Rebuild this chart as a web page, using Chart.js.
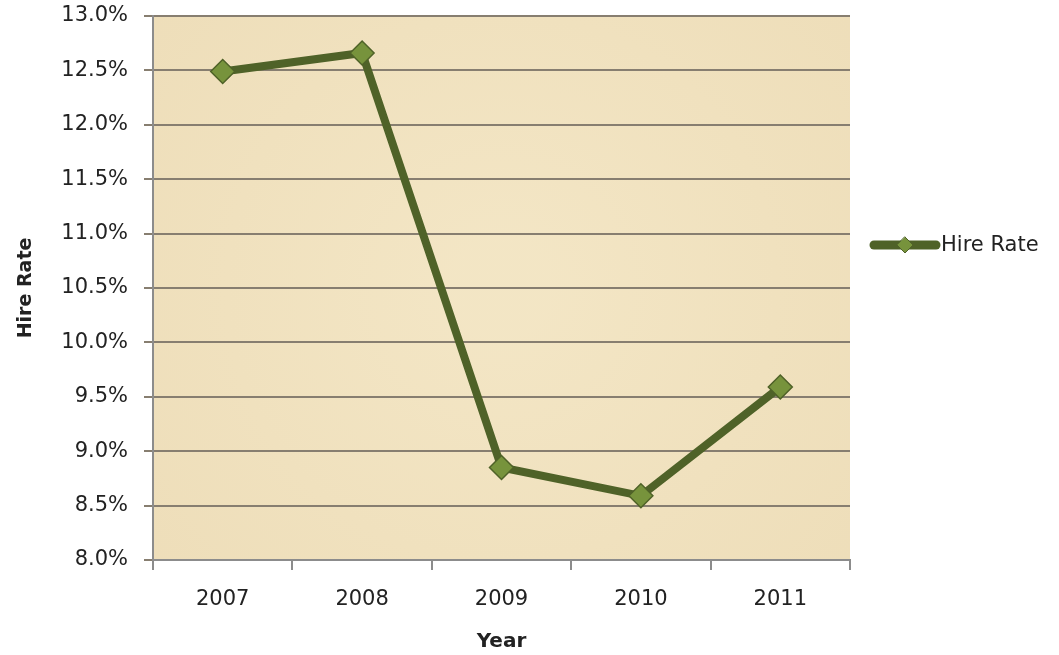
<!DOCTYPE html>
<html>
<head>
<meta charset="utf-8">
<script src="https://cdn.jsdelivr.net/npm/chart.js@4/dist/chart.umd.min.js"></script>
<style>
  html, body { margin: 0; padding: 0; background: #fff; }
  #wrap { width: 1059px; height: 655px; }
</style>
</head>
<body>
<div id="wrap"><canvas id="hires"></canvas></div>
<script>
const years = ['2007', '2008', '2009', '2010', '2011'];
const hireRate = [12.49, 12.66, 8.85, 8.59, 9.59];

const lineColor = '#4F6228';
const markerColor = '#77933C';
const textColor = '#222222';
const font = 'DejaVu Sans';

// parchment fill behind the plot area
const paper = {
  id: 'paper',
  beforeDraw(chart) {
    const {ctx, chartArea: a} = chart;
    ctx.save();
    ctx.fillStyle = '#F0E1BD';
    ctx.fillRect(a.left, a.top, a.right - a.left, a.bottom - a.top);
    const g = ctx.createRadialGradient(
      (a.left + a.right) / 2, (a.top + a.bottom) / 2, 50,
      (a.left + a.right) / 2, (a.top + a.bottom) / 2, 500);
    g.addColorStop(0, 'rgba(246,234,204,0.5)');
    g.addColorStop(1, 'rgba(234,216,178,0.45)');
    ctx.fillStyle = g;
    ctx.fillRect(a.left, a.top, a.right - a.left, a.bottom - a.top);
    ctx.restore();
  }
};

// legend on the right, drawn from the dataset itself
const sideLegend = {
  id: 'sideLegend',
  afterDraw(chart) {
    const {ctx} = chart;
    const ds = chart.data.datasets[0];
    const y = 245, x0 = 874, x1 = 936;
    ctx.save();
    ctx.strokeStyle = ds.borderColor;
    ctx.lineWidth = 9;
    ctx.lineCap = 'round';
    ctx.beginPath();
    ctx.moveTo(x0, y);
    ctx.lineTo(x1, y);
    ctx.stroke();
    ctx.fillStyle = ds.pointBackgroundColor;
    ctx.strokeStyle = ds.pointBorderColor;
    ctx.lineWidth = 1;
    ctx.beginPath();
    const cx = (x0 + x1) / 2, r = 8;
    ctx.moveTo(cx, y - r);
    ctx.lineTo(cx + r, y);
    ctx.lineTo(cx, y + r);
    ctx.lineTo(cx - r, y);
    ctx.closePath();
    ctx.fill();
    ctx.stroke();
    ctx.fillStyle = textColor;
    ctx.font = '21px "' + font + '"';
    ctx.textBaseline = 'middle';
    ctx.fillText(ds.label, x1 + 5, y + 1);
    ctx.restore();
  }
};

new Chart(document.getElementById('hires'), {
  type: 'line',
  data: {
    labels: years,
    datasets: [{
      label: 'Hire Rate',
      data: hireRate,
      borderColor: lineColor,
      borderWidth: 8,
      tension: 0,
      pointStyle: 'rectRot',
      pointRadius: 12,
      pointBackgroundColor: markerColor,
      pointBorderColor: lineColor,
      pointBorderWidth: 1.5
    }]
  },
  options: {
    responsive: true,
    maintainAspectRatio: false,
    animation: false,
    layout: { padding: { top: 16, right: 209, left: 0, bottom: 0 } },
    plugins: {
      legend: { display: false },
      tooltip: { enabled: false }
    },
    scales: {
      x: {
        offset: true,
        grid: { offset: true, drawOnChartArea: false, color: '#8c8c8c', lineWidth: 2, tickLength: 10 },
        border: { color: '#8c8c8c', width: 2 },
        ticks: { color: textColor, font: { family: font, size: 21 }, padding: 17 },
        title: { display: true, text: 'Year', color: textColor, font: { family: font, size: 20, weight: 'bold' }, padding: { top: 10, bottom: 1 } },
        afterFit(scale) { scale.height = 95; }
      },
      y: {
        min: 8,
        max: 13,
        grid: { color: '#877e70', lineWidth: 2, tickLength: 9 },
        border: { color: '#8c8c8c', width: 2 },
        ticks: {
          stepSize: 0.5,
          color: textColor,
          font: { family: font, size: 21 },
          padding: 16,
          callback: v => v.toFixed(1) + '%'
        },
        title: { display: true, text: 'Hire Rate', color: textColor, font: { family: font, size: 19, weight: 'bold' }, padding: { top: 15, bottom: 0 } },
        afterFit(scale) {
          scale.width = 153;
          scale.paddingTop = 0;
          scale.paddingBottom = 0;
        }
      }
    }
  },
  plugins: [paper, sideLegend]
});
</script>
</body>
</html>
